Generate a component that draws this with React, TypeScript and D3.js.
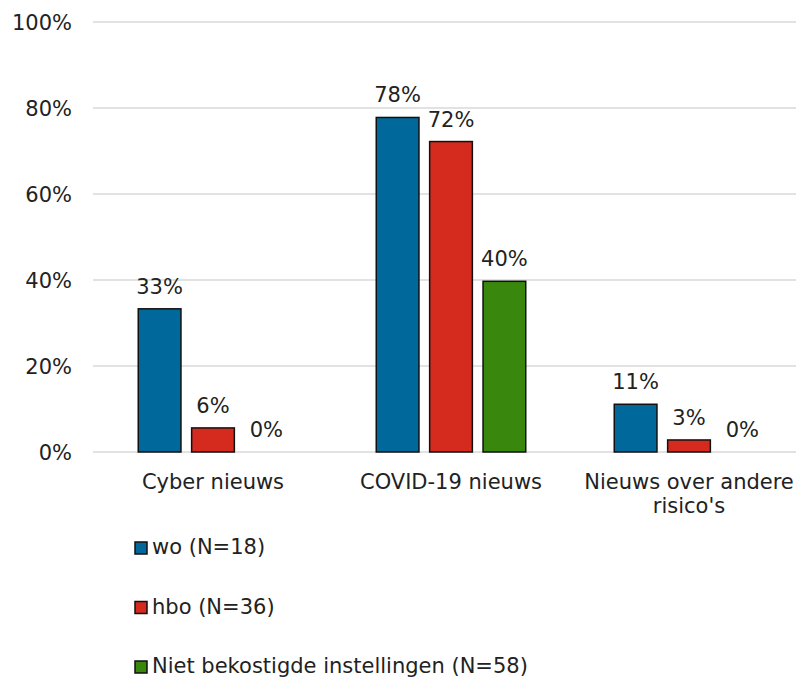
import React from "react";
import * as d3 from "d3";

const categories: string[][] = [["Cyber nieuws"], ["COVID-19 nieuws"], ["Nieuws over andere", "risico's"]];
const seriesNames = ["wo (N=18)", "hbo (N=36)", "Niet bekostigde instellingen (N=58)"];
const seriesColors = ["#01689B", "#D52B1E", "#39870C"];
const woValues = [0.333, 0.778, 0.111];
const hboValues = [0.056, 0.722, 0.028];
const nietValues = [0, 0.397, 0];
const valueLabels = [
  ["33%", "78%", "11%"],
  ["6%", "72%", "3%"],
  ["0%", "40%", "0%"],
];
const yTicks = [0, 0.2, 0.4, 0.6, 0.8, 1.0];

const W = 796;
const H = 682;
const FONT = "'DejaVu Sans', Verdana, sans-serif";
const FS = 21;
const TEXT = "#222";

export default function App() {
  const series = [woValues, hboValues, nietValues];
  const catKeys = categories.map((c) => c.join(" "));
  const x = d3.scaleBand<string>().domain(catKeys).range([94, 808]);
  const x1 = d3
    .scaleBand<number>()
    .domain([0, 1, 2])
    .range([-74.75, 74.75])
    .paddingInner(0.2);
  const y = d3.scaleLinear().domain([0, 1]).range([452, 22]);
  const fmt = d3.format(".0%");

  return (
    <svg
      width={W}
      height={H}
      style={{ position: "absolute", left: 0, top: 0, background: "#fff" }}
      fontFamily={FONT}
    >
      {yTicks.map((t) => (
        <g key={t}>
          <line x1={93} x2={W} y1={y(t)} y2={y(t)} stroke="#d9d9d9" strokeWidth={1.5} />
          <text x={72} y={y(t)} dy="0.36em" textAnchor="end" fontSize={FS} fill={TEXT}>
            {fmt(t)}
          </text>
        </g>
      ))}
      {catKeys.map((k, ci) => {
        const cx = (x(k) as number) + x.bandwidth() / 2;
        return (
          <g key={k}>
            {series.map((vals, si) => {
              const bx = cx + (x1(si) as number);
              const v = vals[ci];
              return (
                <g key={si}>
                  {v > 0 && (
                    <rect
                      x={bx}
                      y={y(v)}
                      width={x1.bandwidth()}
                      height={y(0) - y(v)}
                      fill={seriesColors[si]}
                      stroke="#111"
                      strokeWidth={1.5}
                    />
                  )}
                  <text
                    x={bx + x1.bandwidth() / 2}
                    y={y(v) - 15}
                    textAnchor="middle"
                    fontSize={FS}
                    fill={TEXT}
                  >
                    {valueLabels[si][ci]}
                  </text>
                </g>
              );
            })}
            {categories[ci].map((line, li) => (
              <text
                key={li}
                x={cx}
                y={489 + li * 24}
                textAnchor="middle"
                fontSize={FS}
                fill={TEXT}
              >
                {line}
              </text>
            ))}
          </g>
        );
      })}
      {seriesNames.map((name, si) => {
        const base = 554 + si * 59.5;
        return (
          <g key={name}>
            <rect
              x={135}
              y={base - 12}
              width={12}
              height={12}
              fill={seriesColors[si]}
              stroke="#111"
              strokeWidth={1.5}
            />
            <text x={152} y={base} fontSize={FS} fill={TEXT}>
              {name}
            </text>
          </g>
        );
      })}
    </svg>
  );
}
